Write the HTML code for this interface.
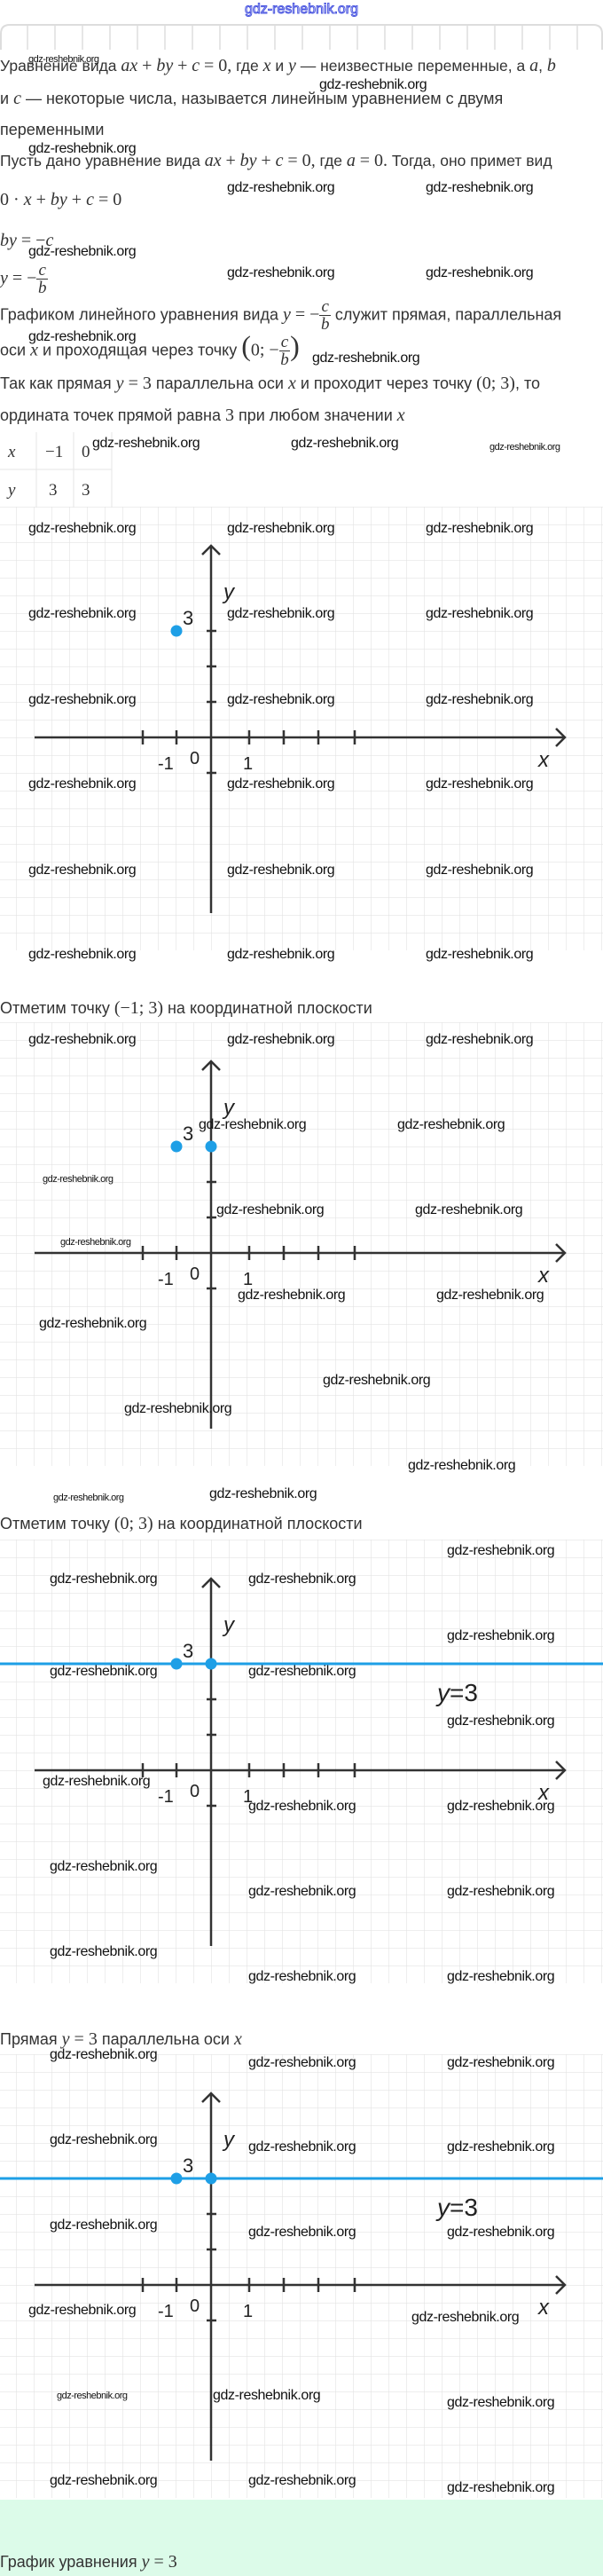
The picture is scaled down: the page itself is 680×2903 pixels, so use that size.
<!DOCTYPE html>
<html><head><meta charset="utf-8">
<style>
body{margin:0;width:680px;height:2903px;position:relative;background:#fff;overflow:hidden;font-family:"Liberation Sans",sans-serif;color:#333}
.t{position:absolute;left:0;white-space:nowrap;font-size:18px;line-height:20px}
.m{font-family:"Liberation Serif",serif;font-style:italic;font-size:20px}
.n{font-family:"Liberation Serif",serif;font-size:20px}
.w{position:absolute;font-family:"Liberation Sans",sans-serif;font-size:16px;color:#111;white-space:nowrap;letter-spacing:-0.4px;line-height:18px}
.s{font-size:11px;letter-spacing:-0.5px}
.g{position:absolute;left:0;width:680px;height:500px}
.fr{display:inline-block;vertical-align:middle;text-align:center;line-height:19px;font-family:"Liberation Serif",serif;font-style:italic;font-size:19px}
.fr span{display:block}
.fr .top{border-bottom:1px solid #333;padding:0 2px}
</style></head><body>
<svg width="0" height="0" style="position:absolute">
<defs>
<pattern id="gp" width="20" height="20" patternUnits="userSpaceOnUse" x="18" y="0">
<path d="M0 0H20M0 0V20" stroke="#e3e3e3" stroke-width="1.2" fill="none"/>
</pattern>
<g id="axes">
<rect width="680" height="500" fill="url(#gp)"/>
<g stroke="#333" stroke-width="2.5" fill="none">
<line x1="39" y1="260" x2="637" y2="260"/>
<polyline points="627,250 637,260 627,270"/>
<line x1="238" y1="44" x2="238" y2="458"/>
<polyline points="228,54 238,44 248,54"/>
<line x1="161" y1="252" x2="161" y2="268"/><line x1="199" y1="252" x2="199" y2="268"/>
<line x1="281" y1="252" x2="281" y2="268"/><line x1="320" y1="252" x2="320" y2="268"/>
<line x1="359" y1="252" x2="359" y2="268"/><line x1="400" y1="252" x2="400" y2="268"/>
<line x1="233" y1="140" x2="244" y2="140"/><line x1="233" y1="180" x2="244" y2="180"/>
<line x1="233" y1="220" x2="244" y2="220"/><line x1="233" y1="300" x2="244" y2="300"/>
</g>
<g font-family="Liberation Sans,sans-serif" fill="#222">
<text x="252" y="104" font-size="24" font-style="italic">y</text>
<text x="607" y="293" font-size="24" font-style="italic">x</text>
<text x="178" y="296" font-size="20">-1</text>
<text x="214" y="290" font-size="20">0</text>
<text x="274" y="296" font-size="20">1</text>
<text x="206" y="133" font-size="22">3</text>
</g>
</g>
</defs></svg>

<div style="position:absolute;left:0;width:680px;top:2px;text-align:center;font-size:16px;color:#fff;-webkit-text-stroke:1px #4a56e0;font-family:'Liberation Sans',sans-serif">gdz-reshebnik.org</div>
<svg style="position:absolute;left:0;top:26px" width="680" height="30">
<path d="M1 30V12Q1 2 11 2H669Q679 2 679 12V30" stroke="#ddd" stroke-width="2" fill="none"/>
<g stroke="#ddd" stroke-width="1.5">
<line x1="31" y1="2" x2="31" y2="30"/><line x1="62" y1="2" x2="62" y2="30"/><line x1="93" y1="2" x2="93" y2="30"/><line x1="124" y1="2" x2="124" y2="30"/><line x1="155" y1="2" x2="155" y2="30"/><line x1="186" y1="2" x2="186" y2="30"/><line x1="217" y1="2" x2="217" y2="30"/><line x1="248" y1="2" x2="248" y2="30"/><line x1="279" y1="2" x2="279" y2="30"/><line x1="310" y1="2" x2="310" y2="30"/><line x1="341" y1="2" x2="341" y2="30"/><line x1="372" y1="2" x2="372" y2="30"/><line x1="403" y1="2" x2="403" y2="30"/><line x1="434" y1="2" x2="434" y2="30"/><line x1="465" y1="2" x2="465" y2="30"/><line x1="496" y1="2" x2="496" y2="30"/><line x1="527" y1="2" x2="527" y2="30"/><line x1="558" y1="2" x2="558" y2="30"/><line x1="589" y1="2" x2="589" y2="30"/><line x1="620" y1="2" x2="620" y2="30"/><line x1="651" y1="2" x2="651" y2="30"/>
</g></svg>

<div class="t" style="top:64px;font-size:17.5px">Уравнение вида <span class="m">ax</span> <span class="n">+</span> <span class="m">by</span> <span class="n">+</span> <span class="m">c</span> <span class="n">= 0,</span> где <span class="m">x</span> и <span class="m">y</span> — неизвестные переменные, а <span class="m">a</span>, <span class="m">b</span></div>
<div class="t" style="top:101px">и <span class="m">c</span> — некоторые числа, называется линейным уравнением с двумя</div>
<div class="t" style="top:136px">переменными</div>
<div class="t" style="top:171px;font-size:17.5px">Пусть дано уравнение вида <span class="m">ax</span> <span class="n">+</span> <span class="m">by</span> <span class="n">+</span> <span class="m">c</span> <span class="n">= 0,</span> где <span class="m">a</span> <span class="n">= 0.</span> Тогда, оно примет вид</div>
<div class="t" style="top:215px"><span class="n">0 ·</span> <span class="m">x</span> <span class="n">+</span> <span class="m">by</span> <span class="n">+</span> <span class="m">c</span> <span class="n">= 0</span></div>
<div class="t" style="top:261px"><span class="m">by</span> <span class="n">= −</span><span class="m">c</span></div>
<div class="t" style="top:295px"><span class="m">y</span> <span class="n">= −</span><span class="fr"><span class="top">c</span><span>b</span></span></div>
<div class="t" style="top:336px">Графиком линейного уравнения вида <span class="m">y</span> <span class="n">= −</span><span class="fr"><span class="top">c</span><span>b</span></span> служит прямая, параллельная</div>
<div class="t" style="top:376px">оси <span class="m">x</span> и проходящая через точку <span class="n" style="font-size:32px">(</span><span class="n">0; −</span><span class="fr"><span class="top">c</span><span>b</span></span><span class="n" style="font-size:32px">)</span></div>
<div class="t" style="top:422px">Так как прямая <span class="m">y</span> <span class="n">= 3</span> параллельна оси <span class="m">x</span> и проходит через точку <span class="n">(0; 3)</span>, то</div>
<div class="t" style="top:458px">ордината точек прямой равна <span class="n">3</span> при любом значении <span class="m">x</span></div>

<svg style="position:absolute;left:0;top:487px" width="130" height="85">
<g stroke="#e5e5e5" stroke-width="1" fill="none"><line x1="0" y1="42" x2="126" y2="42"/><line x1="41" y1="0" x2="41" y2="85"/><line x1="83" y1="0" x2="83" y2="85"/><line x1="126" y1="0" x2="126" y2="85"/></g>
<g font-family="Liberation Serif,serif" font-size="19" fill="#333">
<text x="9" y="28" font-style="italic">x</text><text x="51" y="28">−1</text><text x="92" y="28">0</text>
<text x="9" y="71" font-style="italic">y</text><text x="55" y="71">3</text><text x="92" y="71">3</text></g></svg>

<!-- Graph 1 -->
<svg class="g" style="top:571px" viewBox="0 0 680 500"><use href="#axes"/>
<circle cx="199" cy="140" r="6.5" fill="#1e9fe6"/></svg>

<div class="t" style="top:1126px">Отметим точку <span class="n">(−1; 3)</span> на координатной плоскости</div>
<!-- Graph 2 -->
<svg class="g" style="top:1152px" viewBox="0 0 680 500"><use href="#axes"/>
<circle cx="199" cy="140" r="6.5" fill="#1e9fe6"/><circle cx="238" cy="140" r="6.5" fill="#1e9fe6"/></svg>

<div class="t" style="top:1707px">Отметим точку <span class="n">(0; 3)</span> на координатной плоскости</div>
<!-- Graph 3 -->
<svg class="g" style="top:1735px" viewBox="0 0 680 500"><use href="#axes"/>
<line x1="0" y1="140" x2="680" y2="140" stroke="#1e9fe6" stroke-width="3"/>
<circle cx="199" cy="140" r="6.5" fill="#1e9fe6"/><circle cx="238" cy="140" r="6.5" fill="#1e9fe6"/>
<text x="493" y="182" font-family="Liberation Sans,sans-serif" font-size="28" fill="#222"><tspan font-style="italic">y</tspan>=3</text></svg>

<div class="t" style="top:2288px">Прямая <span class="m">y</span> <span class="n">= 3</span> параллельна оси <span class="m">x</span></div>
<!-- Graph 4 -->
<svg class="g" style="top:2315px" viewBox="0 0 680 500"><use href="#axes"/>
<line x1="0" y1="140" x2="680" y2="140" stroke="#1e9fe6" stroke-width="3"/>
<circle cx="199" cy="140" r="6.5" fill="#1e9fe6"/><circle cx="238" cy="140" r="6.5" fill="#1e9fe6"/>
<text x="493" y="182" font-family="Liberation Sans,sans-serif" font-size="28" fill="#222"><tspan font-style="italic">y</tspan>=3</text></svg>

<div style="position:absolute;left:0;top:2817px;width:680px;height:86px;background:#dcfbe9"></div>
<div class="t" style="top:2877px">График уравнения <span class="m">y</span> <span class="n">= 3</span></div>

<!-- watermarks -->
<div class="w s" style="left:32px;top:58px">gdz-reshebnik.org</div>
<div class="w" style="left:360px;top:87px">gdz-reshebnik.org</div>
<div class="w" style="left:32px;top:159px">gdz-reshebnik.org</div>
<div class="w" style="left:256px;top:203px">gdz-reshebnik.org</div>
<div class="w" style="left:480px;top:203px">gdz-reshebnik.org</div>
<div class="w" style="left:32px;top:275px">gdz-reshebnik.org</div>
<div class="w" style="left:256px;top:299px">gdz-reshebnik.org</div>
<div class="w" style="left:480px;top:299px">gdz-reshebnik.org</div>
<div class="w" style="left:32px;top:371px">gdz-reshebnik.org</div>
<div class="w" style="left:352px;top:395px">gdz-reshebnik.org</div>
<div class="w" style="left:104px;top:491px">gdz-reshebnik.org</div>
<div class="w" style="left:328px;top:491px">gdz-reshebnik.org</div>
<div class="w s" style="left:552px;top:495px">gdz-reshebnik.org</div>

<div class="w" style="left:32px;top:587px">gdz-reshebnik.org</div><div class="w" style="left:256px;top:587px">gdz-reshebnik.org</div><div class="w" style="left:480px;top:587px">gdz-reshebnik.org</div>
<div class="w" style="left:32px;top:683px">gdz-reshebnik.org</div><div class="w" style="left:256px;top:683px">gdz-reshebnik.org</div><div class="w" style="left:480px;top:683px">gdz-reshebnik.org</div>
<div class="w" style="left:32px;top:780px">gdz-reshebnik.org</div><div class="w" style="left:256px;top:780px">gdz-reshebnik.org</div><div class="w" style="left:480px;top:780px">gdz-reshebnik.org</div>
<div class="w" style="left:32px;top:875px">gdz-reshebnik.org</div><div class="w" style="left:256px;top:875px">gdz-reshebnik.org</div><div class="w" style="left:480px;top:875px">gdz-reshebnik.org</div>
<div class="w" style="left:32px;top:972px">gdz-reshebnik.org</div><div class="w" style="left:256px;top:972px">gdz-reshebnik.org</div><div class="w" style="left:480px;top:972px">gdz-reshebnik.org</div>
<div class="w" style="left:32px;top:1067px">gdz-reshebnik.org</div><div class="w" style="left:256px;top:1067px">gdz-reshebnik.org</div><div class="w" style="left:480px;top:1067px">gdz-reshebnik.org</div>

<div class="w" style="left:32px;top:1163px">gdz-reshebnik.org</div><div class="w" style="left:256px;top:1163px">gdz-reshebnik.org</div><div class="w" style="left:480px;top:1163px">gdz-reshebnik.org</div>
<div class="w" style="left:224px;top:1259px">gdz-reshebnik.org</div><div class="w" style="left:448px;top:1259px">gdz-reshebnik.org</div>
<div class="w s" style="left:48px;top:1320px">gdz-reshebnik.org</div>
<div class="w" style="left:244px;top:1355px">gdz-reshebnik.org</div><div class="w" style="left:468px;top:1355px">gdz-reshebnik.org</div>
<div class="w s" style="left:68px;top:1391px">gdz-reshebnik.org</div>
<div class="w" style="left:268px;top:1451px">gdz-reshebnik.org</div><div class="w" style="left:492px;top:1451px">gdz-reshebnik.org</div>
<div class="w" style="left:44px;top:1483px">gdz-reshebnik.org</div>
<div class="w" style="left:364px;top:1547px">gdz-reshebnik.org</div>
<div class="w" style="left:140px;top:1579px">gdz-reshebnik.org</div>
<div class="w" style="left:460px;top:1643px">gdz-reshebnik.org</div>
<div class="w s" style="left:60px;top:1679px">gdz-reshebnik.org</div>
<div class="w" style="left:236px;top:1675px">gdz-reshebnik.org</div>

<div class="w" style="left:504px;top:1739px">gdz-reshebnik.org</div>
<div class="w" style="left:56px;top:1771px">gdz-reshebnik.org</div><div class="w" style="left:280px;top:1771px">gdz-reshebnik.org</div>
<div class="w" style="left:504px;top:1835px">gdz-reshebnik.org</div>
<div class="w" style="left:56px;top:1875px">gdz-reshebnik.org</div><div class="w" style="left:280px;top:1875px">gdz-reshebnik.org</div>
<div class="w" style="left:504px;top:1931px">gdz-reshebnik.org</div>
<div class="w" style="left:48px;top:1999px">gdz-reshebnik.org</div>
<div class="w" style="left:280px;top:2027px">gdz-reshebnik.org</div><div class="w" style="left:504px;top:2027px">gdz-reshebnik.org</div>
<div class="w" style="left:56px;top:2095px">gdz-reshebnik.org</div>
<div class="w" style="left:280px;top:2123px">gdz-reshebnik.org</div><div class="w" style="left:504px;top:2123px">gdz-reshebnik.org</div>
<div class="w" style="left:56px;top:2191px">gdz-reshebnik.org</div>
<div class="w" style="left:280px;top:2219px">gdz-reshebnik.org</div><div class="w" style="left:504px;top:2219px">gdz-reshebnik.org</div>

<div class="w" style="left:56px;top:2307px">gdz-reshebnik.org</div>
<div class="w" style="left:280px;top:2316px">gdz-reshebnik.org</div><div class="w" style="left:504px;top:2316px">gdz-reshebnik.org</div>
<div class="w" style="left:56px;top:2403px">gdz-reshebnik.org</div>
<div class="w" style="left:280px;top:2411px">gdz-reshebnik.org</div><div class="w" style="left:504px;top:2411px">gdz-reshebnik.org</div>
<div class="w" style="left:56px;top:2499px">gdz-reshebnik.org</div>
<div class="w" style="left:280px;top:2507px">gdz-reshebnik.org</div><div class="w" style="left:504px;top:2507px">gdz-reshebnik.org</div>
<div class="w" style="left:32px;top:2595px">gdz-reshebnik.org</div>
<div class="w" style="left:464px;top:2603px">gdz-reshebnik.org</div>
<div class="w s" style="left:64px;top:2691px">gdz-reshebnik.org</div>
<div class="w" style="left:240px;top:2691px">gdz-reshebnik.org</div>
<div class="w" style="left:504px;top:2699px">gdz-reshebnik.org</div>
<div class="w" style="left:56px;top:2787px">gdz-reshebnik.org</div><div class="w" style="left:280px;top:2787px">gdz-reshebnik.org</div><div class="w" style="left:504px;top:2795px">gdz-reshebnik.org</div>
</body></html>
